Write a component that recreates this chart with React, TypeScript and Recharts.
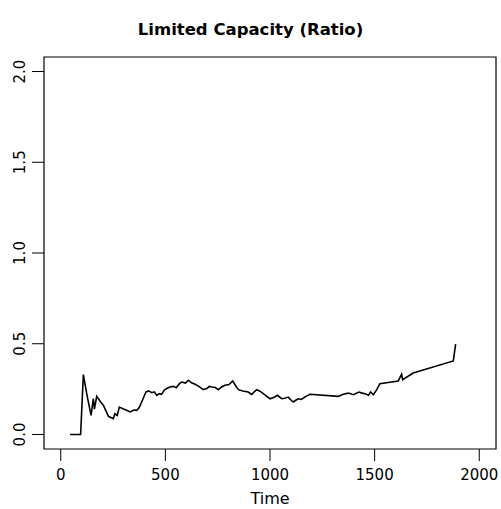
import React from 'react';
import { LineChart, Line, XAxis, YAxis, ReferenceArea } from 'recharts';

// values
const times = [
  44, 95, 108, 125, 145, 156, 161, 172, 190, 204, 228, 251, 259, 270, 280, 300, 315, 331, 350, 363,
  375, 387, 407, 420, 435, 447, 459, 470, 482, 495, 506, 522, 538, 552, 567, 578, 596, 610, 625, 642,
  660, 681, 700, 710, 721, 737, 753, 769, 785, 804, 822, 835, 849, 870, 896, 912, 936, 950, 968, 985,
  1000, 1020, 1035, 1056, 1070, 1087, 1100, 1111, 1125, 1135, 1150, 1159, 1172, 1191, 1326, 1350, 1374, 1398, 1425, 1440,
  1454, 1470, 1481, 1494, 1510, 1525, 1613, 1629, 1634, 1684, 1876, 1887,
];
const ratios = [
  0, 0, 0.33, 0.22, 0.105, 0.197, 0.14, 0.21, 0.18, 0.16, 0.1, 0.087, 0.114, 0.105, 0.151, 0.14, 0.133, 0.124, 0.135, 0.133,
  0.148, 0.18, 0.234, 0.24, 0.23, 0.235, 0.216, 0.225, 0.221, 0.245, 0.253, 0.262, 0.265, 0.258, 0.28, 0.289, 0.283, 0.299, 0.285, 0.277,
  0.265, 0.247, 0.255, 0.265, 0.262, 0.26, 0.247, 0.262, 0.271, 0.275, 0.295, 0.27, 0.247, 0.24, 0.234, 0.221, 0.247, 0.24, 0.225, 0.21,
  0.197, 0.205, 0.216, 0.197, 0.2, 0.206, 0.19, 0.179, 0.19, 0.197, 0.193, 0.2, 0.21, 0.222, 0.21, 0.222, 0.228, 0.219, 0.234, 0.228,
  0.225, 0.216, 0.234, 0.219, 0.247, 0.28, 0.295, 0.332, 0.302, 0.339, 0.405, 0.498,
];
const xTicks = [0, 500, 1000, 1500, 2000];
const yTicks = [0, 0.5, 1, 1.5, 2];

const data = times.map((t, i) => ({ time: t, ratio: ratios[i] }));

const font = '"DejaVu Sans", sans-serif';

// R-style rotated y tick labels
const YTick = (props: any) => {
  const { y, payload } = props;
  return (
    <text
      transform={`translate(25,${y}) rotate(-90)`}
      textAnchor="middle"
      fontSize={15}
      fontFamily={font}
      fill="#000"
    >
      {Number(payload.value).toFixed(1)}
    </text>
  );
};

export default function App() {
  return (
    <div style={{ position: 'absolute', left: 0, top: 0, width: 501, height: 509, background: '#fff' }}>
      <div
        style={{
          position: 'absolute', left: 0, top: 20, width: 501, textAlign: 'center',
          fontFamily: font, fontWeight: 'bold', fontSize: 16.5, lineHeight: '20px',
        }}
      >
        Limited Capacity (Ratio)
      </div>
      <div
        style={{
          position: 'absolute', left: 44, top: 489, width: 452, textAlign: 'center',
          fontFamily: font, fontSize: 16, lineHeight: '20px',
        }}
      >
        Time
      </div>
      <LineChart
        width={501}
        height={509}
        data={data}
        margin={{ top: 57, right: 5, bottom: 0, left: 0 }}
      >
        <XAxis
          dataKey="time"
          type="number"
          domain={[-80, 2080]}
          ticks={xTicks}
          allowDataOverflow
          axisLine={false}
          tickSize={12}
          tickMargin={8}
          height={60}
          tickLine={{ stroke: '#000' }}
          tick={{ fill: '#000', fontSize: 15, fontFamily: font }}
          interval={0}
        />
        <YAxis
          type="number"
          domain={[-0.08, 2.08]}
          ticks={yTicks}
          allowDataOverflow
          axisLine={false}
          tickSize={12}
          width={44}
          tickLine={{ stroke: '#000' }}
          tick={<YTick />}
          interval={0}
        />
        <ReferenceArea
          x1={-80}
          x2={2080}
          y1={-0.08}
          y2={2.08}
          fill="none"
          stroke="#000"
          strokeWidth={1.2}
          ifOverflow="visible"
        />
        <Line
          type="linear"
          dataKey="ratio"
          stroke="#000"
          strokeWidth={1.6}
          dot={false}
          isAnimationActive={false}
        />
      </LineChart>
    </div>
  );
}
